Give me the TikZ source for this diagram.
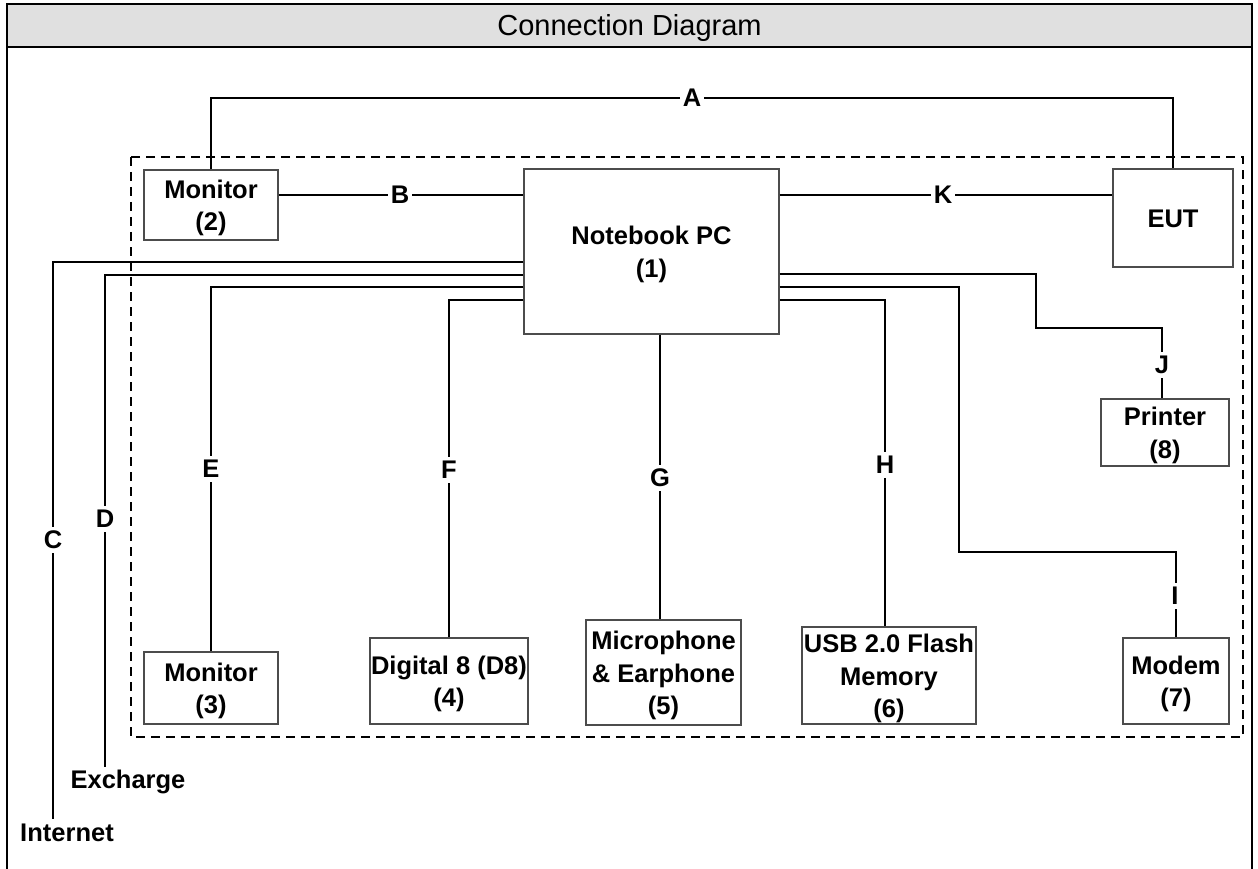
\documentclass[tikz,border=0pt]{standalone}
\usepackage{fontspec}
\setmainfont{Liberation Sans}
\usetikzlibrary{calc}
\definecolor{hdr}{RGB}{224,224,224}
\tikzset{
  box/.style={draw=black!70, line width=1.3pt, fill=white, inner sep=0pt},
  txt/.style={align=center, inner sep=0pt, yshift=-3pt,
    font=\fontsize{25.5}{32.5}\selectfont\bfseries},
  wire/.style={draw=black, line width=1.8pt},
  lbl/.style={fill=white, inner xsep=3pt, inner ysep=4pt, font=\fontsize{25.5}{28}\selectfont\bfseries},
  plain/.style={font=\fontsize{25.5}{28}\selectfont\bfseries, inner sep=0pt}
}
\begin{document}
\begin{tikzpicture}[x=1pt,y=-1pt]
\useasboundingbox (0,0) rectangle (1258,869);
% header and frame
\fill[hdr] (7,4) rectangle (1252,47);
\node[font=\fontsize{29}{32}\selectfont] (title) at (629.5,28) {Connection Diagram};
\draw[line width=2.6pt] (7,872) -- (7,4) -- (1252,4) -- (1252,872);
\draw[line width=2.6pt] (7,47) -- (1252,47);
% dashed area
\draw[line width=1.2pt, dash pattern=on 9pt off 6pt] (131,157) rectangle (1243,737);
% boxes
\node[box, minimum width=255pt, minimum height=165pt, label={[txt]center:{Notebook PC\\(1)}}] (nb) at (651.5,251.5) {};
\node[box, minimum width=134pt, minimum height=70pt, label={[txt]center:{Monitor\\(2)}}] (m2) at (211,205) {};
\node[box, minimum width=120pt, minimum height=98pt, label={[txt,yshift=2pt]center:{EUT}}] (eut) at (1173,218) {};
\node[box, minimum width=134pt, minimum height=72pt, label={[txt]center:{Monitor\\(3)}}] (m3) at (211,688) {};
\node[box, minimum width=158pt, minimum height=86pt, label={[txt]center:{Digital 8 (D8)\\(4)}}] (d8) at (449,681) {};
\node[box, minimum width=155pt, minimum height=105pt, label={[txt]center:{Microphone\\\& Earphone\\(5)}}] (mic) at (663.5,672.5) {};
\node[box, minimum width=174pt, minimum height=97pt, label={[txt]center:{USB 2.0 Flash\\Memory\\(6)}}] (usb) at (889,675.5) {};
\node[box, minimum width=106pt, minimum height=86pt, label={[txt]center:{Modem\\(7)}}] (modem) at (1176,681) {};
\node[box, minimum width=128pt, minimum height=67pt, label={[txt]center:{Printer\\(8)}}] (prn) at (1165,432.5) {};
% free ends and bends
\coordinate (Aleft) at (211,98);
\coordinate (Cend) at (53,819);
\coordinate (Dend) at (105,767);
\coordinate (Ibend) at (959,552);
\coordinate (Jbend) at (1036,328);
% connectors
\draw[wire] (m2.north) -- (Aleft) -| (eut.north);
\draw[wire] (m2.east |- 0,195) -- (nb.west |- 0,195);
\draw[wire] (nb.east |- 0,195) -- (eut.west |- 0,195);
\draw[wire] ($(nb.west)+(0,10.5)$) -| (Cend);
\draw[wire] ($(nb.west)+(0,23.5)$) -| (Dend);
\draw[wire] ($(nb.west)+(0,35.5)$) -| (m3.north);
\draw[wire] ($(nb.west)+(0,48.5)$) -| (d8.north);
\draw[wire] ($(nb.south)+(8.5,0)$) coordinate (g0) -- (g0 |- mic.north);
\draw[wire] ($(nb.east)+(0,48.5)$) -| ($(usb.north)+(-4,0)$);
\draw[wire] ($(nb.east)+(0,35.5)$) -| (Ibend) -| (modem.north);
\draw[wire] ($(nb.east)+(0,22.5)$) -| (Jbend) -| ($(prn.north)+(-3,0)$);
% connector labels
\node[lbl] (la) at (692,98) {A};
\node[lbl] (lb) at (400,195) {B};
\node[lbl] (lc) at (53,540) {C};
\node[lbl] (ld) at (105,519) {D};
\node[lbl] (le) at (211,469) {E};
\node[lbl] (lf) at (449,470) {F};
\node[lbl] (lg) at (660,478) {G};
\node[lbl] (lh) at (885,465) {H};
\node[lbl] (li) at (1175,596) {I};
\node[lbl] (lj) at (1162,365) {J};
\node[lbl] (lk) at (943,195) {K};
% end labels
\node[plain] (exch) at (128,782) {Excharge};
\node[plain] (inet) at (67,833) {Internet};
\end{tikzpicture}
\end{document}
